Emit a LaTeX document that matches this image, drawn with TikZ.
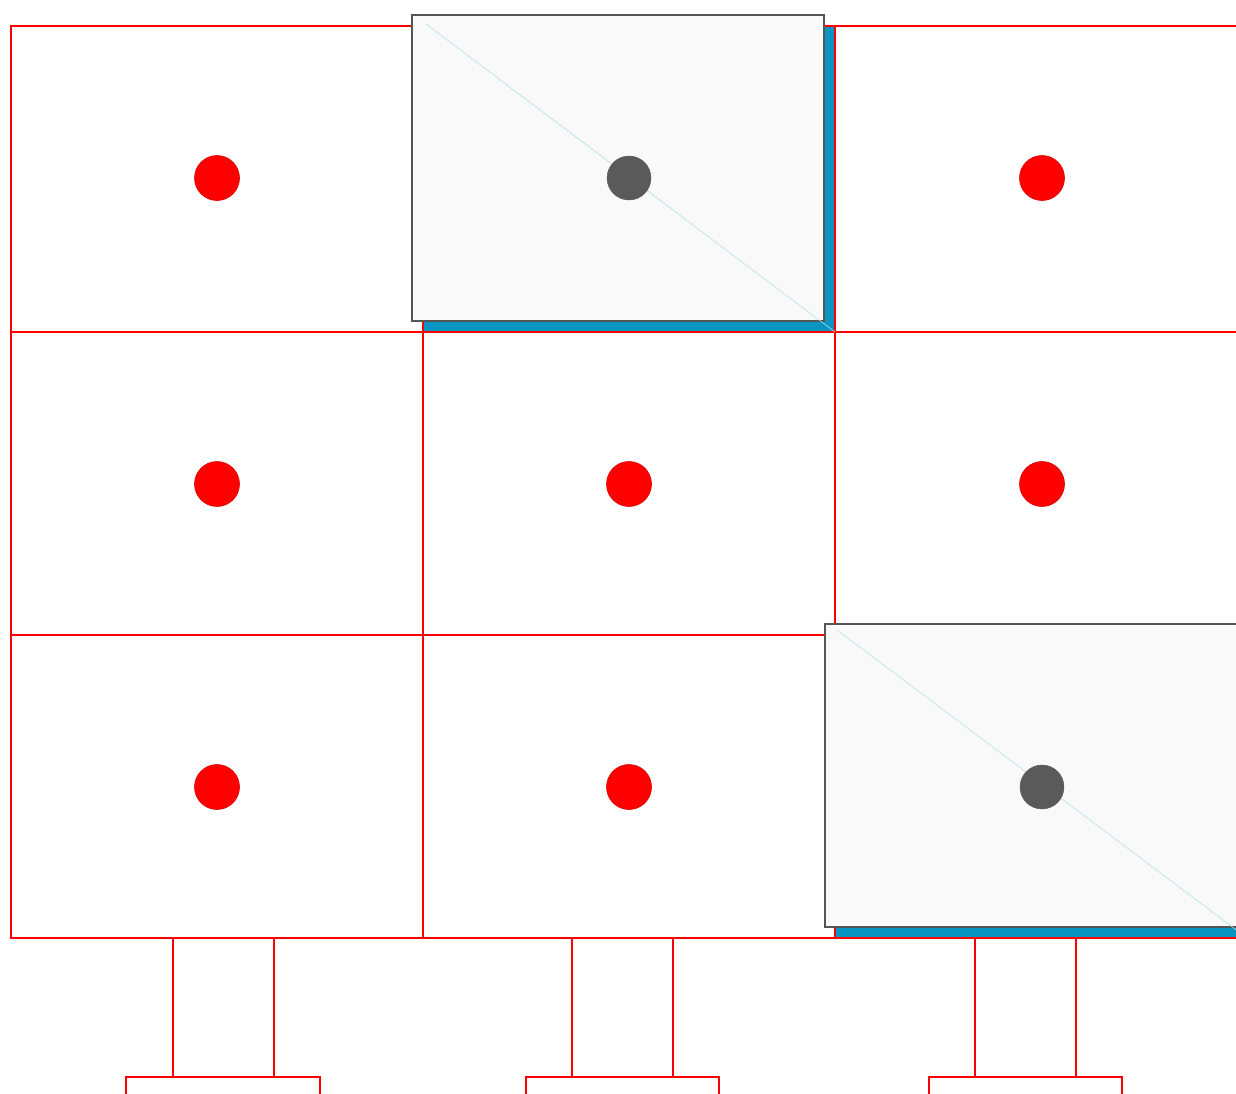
\documentclass[tikz,border=0pt]{standalone}
\definecolor{gridred}{HTML}{FF0000}
\definecolor{shadowblue}{HTML}{0895C2}
\definecolor{cardfill}{HTML}{F9F9F9}
\definecolor{cardedge}{HTML}{555555}
\definecolor{dotgrey}{HTML}{5A5A5A}
\definecolor{diagblue}{HTML}{B5DFEC}
\begin{document}
\begin{tikzpicture}[x=1pt,y=-1pt,
  gridline/.style={draw=gridred,line width=1.6pt},
  reddot/.style={circle,fill=gridred,draw=gridred!85!black,line width=0.6pt,minimum size=45pt,inner sep=0pt},
  greydot/.style={circle,fill=dotgrey,draw=dotgrey,minimum size=44pt,inner sep=0pt},
  shadowbox/.style={fill=shadowblue},
  cardbox/.style={draw=cardedge,fill=cardfill,line width=1.8pt},
  diagline/.style={draw=diagblue,line width=0.6pt}]
\useasboundingbox (0,0) rectangle (1236,1093);
\clip (0,0) rectangle (1236,1093);
% shadows of lifted cells
\fill[shadowbox] (423,26) rectangle (835,332);
\fill[shadowbox] (835,635) rectangle (1247,938);
% grid
\draw[gridline] (11,26) rectangle (1247,938);
\draw[gridline] (423,26) -- (423,938);
\draw[gridline] (835,26) -- (835,938);
\draw[gridline] (11,332) -- (1247,332);
\draw[gridline] (11,635) -- (1247,635);
% legs
\foreach \a/\b/\l/\r in {173/274/126/320, 572/673/526/719, 975/1076/929/1122}{
  \draw[gridline] (\a,938) -- (\a,1077);
  \draw[gridline] (\b,938) -- (\b,1077);
  \draw[gridline] (\l,1100) -- (\l,1077) -- (\r,1077) -- (\r,1100);
}
% red dots
\node[reddot] (d11) at (217,178) {};
\node[reddot] (d13) at (1042,178) {};
\node[reddot] (d21) at (217,484) {};
\node[reddot] (d22) at (629,484) {};
\node[reddot] (d23) at (1042,484) {};
\node[reddot] (d31) at (217,787) {};
\node[reddot] (d32) at (629,787) {};
% lifted cards
\draw[cardbox] (412,15) rectangle (824,321);
\draw[diagline] (426,24) -- (835,332);
\node[greydot] (d12) at (629,178) {};
\draw[cardbox] (825,624) rectangle (1240,927);
\draw[diagline] (837,630) -- (1247,938);
\node[greydot] (d33) at (1042,787) {};
\end{tikzpicture}
\end{document}
